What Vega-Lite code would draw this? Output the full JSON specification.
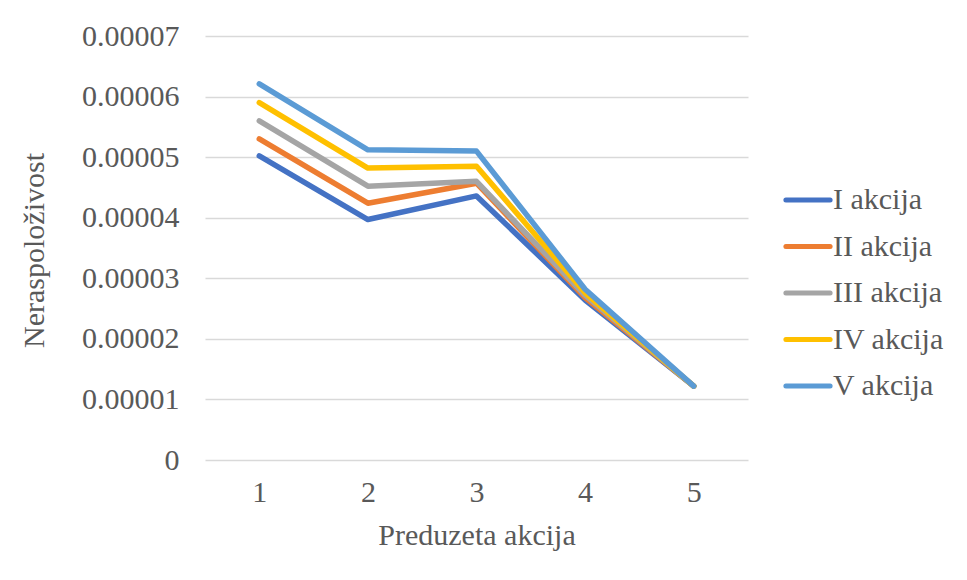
{
  "$schema": "https://vega.github.io/schema/vega-lite/v6.json",
  "autosize": {"type": "none"},
  "width": 543,
  "height": 424,
  "padding": {"left": 205, "top": 36, "right": 219, "bottom": 120},
  "background": "white",
  "data": {
    "values": [
      {"akcija": 1, "serija": "I akcija", "v": 0.0000502},
      {"akcija": 2, "serija": "I akcija", "v": 0.0000397},
      {"akcija": 3, "serija": "I akcija", "v": 0.0000436},
      {"akcija": 4, "serija": "I akcija", "v": 0.0000264},
      {"akcija": 5, "serija": "I akcija", "v": 0.0000122},
      {"akcija": 1, "serija": "II akcija", "v": 0.0000530},
      {"akcija": 2, "serija": "II akcija", "v": 0.0000424},
      {"akcija": 3, "serija": "II akcija", "v": 0.0000457},
      {"akcija": 4, "serija": "II akcija", "v": 0.0000268},
      {"akcija": 5, "serija": "II akcija", "v": 0.0000122},
      {"akcija": 1, "serija": "III akcija", "v": 0.0000560},
      {"akcija": 2, "serija": "III akcija", "v": 0.0000452},
      {"akcija": 3, "serija": "III akcija", "v": 0.0000460},
      {"akcija": 4, "serija": "III akcija", "v": 0.0000272},
      {"akcija": 5, "serija": "III akcija", "v": 0.0000122},
      {"akcija": 1, "serija": "IV akcija", "v": 0.0000590},
      {"akcija": 2, "serija": "IV akcija", "v": 0.0000482},
      {"akcija": 3, "serija": "IV akcija", "v": 0.0000485},
      {"akcija": 4, "serija": "IV akcija", "v": 0.0000276},
      {"akcija": 5, "serija": "IV akcija", "v": 0.0000122},
      {"akcija": 1, "serija": "V akcija", "v": 0.0000621},
      {"akcija": 2, "serija": "V akcija", "v": 0.0000512},
      {"akcija": 3, "serija": "V akcija", "v": 0.0000510},
      {"akcija": 4, "serija": "V akcija", "v": 0.0000282},
      {"akcija": 5, "serija": "V akcija", "v": 0.0000122}
    ]
  },
  "mark": {"type": "line", "strokeWidth": 5.5, "strokeCap": "round", "strokeJoin": "round"},
  "encoding": {
    "x": {
      "field": "akcija",
      "type": "ordinal",
      "scale": {"type": "point", "padding": 0.5},
      "axis": {
        "title": "Preduzeta akcija",
        "labelAngle": 0,
        "domain": false,
        "ticks": false,
        "grid": false,
        "labelPadding": 17,
        "titleY": 84,
        "titleBaseline": "alphabetic"
      }
    },
    "y": {
      "field": "v",
      "type": "quantitative",
      "scale": {"domain": [0, 0.00007], "nice": false},
      "axis": {
        "values": [0, 0.00001, 0.00002, 0.00003, 0.00004, 0.00005, 0.00006, 0.00007],
        "format": ".5~f",
        "title": "Neraspoloživost",
        "domain": false,
        "ticks": false,
        "labelPadding": 26,
        "grid": true,
        "gridColor": "#d9d9d9",
        "gridWidth": 1.5,
        "titleX": -162,
        "titleY": 214,
        "titleAngle": -90,
        "titleAlign": "center",
        "titleBaseline": "alphabetic"
      }
    },
    "color": {
      "field": "serija",
      "type": "nominal",
      "scale": {
        "domain": ["I akcija", "II akcija", "III akcija", "IV akcija", "V akcija"],
        "range": ["#4472C4", "#ED7D31", "#A5A5A5", "#FFC000", "#5B9BD5"]
      },
      "legend": {
        "orient": "none",
        "legendX": 588,
        "legendY": 149,
        "title": null,
        "padding": 0,
        "symbolType": "M-3.4,0H3.4",
        "symbolSize": 169,
        "symbolStrokeWidth": 5,
        "labelOffset": 10,
        "rowPadding": 16.5,
        "labelFont": "Liberation Serif",
        "labelFontSize": 30,
        "labelColor": "#595959",
        "labelLimit": 300,
        "encode": {"symbols": {"update": {"strokeCap": {"value": "round"}}}}
      }
    }
  },
  "config": {
    "font": "Liberation Serif",
    "view": {"stroke": null},
    "axis": {
      "labelFont": "Liberation Serif",
      "labelFontSize": 30,
      "labelColor": "#595959",
      "titleFont": "Liberation Serif",
      "titleFontSize": 30,
      "titleFontWeight": "normal",
      "titleColor": "#595959"
    }
  }
}
